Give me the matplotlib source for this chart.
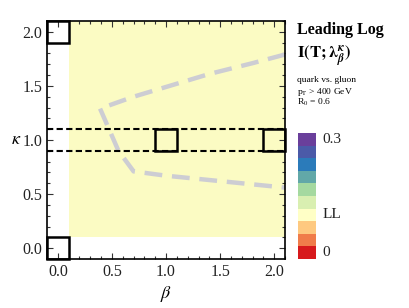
import numpy as np
import matplotlib
matplotlib.use("Agg")
import matplotlib.pyplot as plt
from matplotlib.colors import ListedColormap
from matplotlib.patches import Rectangle

plt.rcParams['font.family'] = ['Liberation Serif', 'DejaVu Serif']
plt.rcParams['mathtext.fontset'] = 'stix'

# Data
beta_centers = np.round(np.arange(0.2, 2.01, 0.2), 2)
kappa_centers = np.round(np.arange(0.2, 2.01, 0.2), 2)
ll_level = 3  # index of "LL" category in the colour scale
values = np.full((len(kappa_centers), len(beta_centers)), ll_level)

cbar_colors = ['#d7191c', '#f07c4a', '#fec980', '#ffffc6', '#d9efb1',
               '#a5d9a0', '#62a8a8', '#2b7bba', '#4b5aa8', '#6a3f9b']
cbar_labels = {0: '0', 3: 'LL', 9: '0.3'}

highlight_squares = [(0.0, 2.0), (0.0, 0.0), (1.0, 1.0), (2.0, 1.0)]
kappa_lines = [0.9, 1.1]

curve_beta = [2.1, 1.8, 1.4, 1.0, 0.7, 0.39, 0.56, 0.70, 1.0, 1.4, 1.8, 2.1]
curve_kappa = [1.79, 1.71, 1.61, 1.49, 1.40, 1.29, 0.90, 0.71, 0.67, 0.63, 0.59, 0.56]

fig = plt.figure(figsize=(4.09, 3.08), dpi=100)
ax = fig.add_axes([0.115, 0.159, 0.582, 0.773])

heat_cmap = ListedColormap(['#fbfbc3'])
step = 0.2
bedges = np.concatenate([beta_centers - step / 2, [beta_centers[-1] + step / 2]])
kedges = np.concatenate([kappa_centers - step / 2, [kappa_centers[-1] + step / 2]])
ax.pcolormesh(bedges, kedges, values, cmap=heat_cmap, shading='flat')

for k in kappa_lines:
    ax.axhline(k, color='black', lw=1.5, ls=(0, (3, 1.6)), zorder=3)

ax.plot(curve_beta, curve_kappa, color='#cdcdd3', lw=3.2, ls=(0, (4, 2.2)),
        solid_capstyle='butt', zorder=2)

for (b, k) in highlight_squares:
    ax.add_patch(Rectangle((b - 0.1, k - 0.1), 0.2, 0.2, fill=False,
                           ec='black', lw=1.8, zorder=4, clip_on=False))

ax.set_xlim(-0.1, 2.1)
ax.set_ylim(-0.1, 2.1)
ax.set_xticks([0.0, 0.5, 1.0, 1.5, 2.0])
ax.set_yticks([0.0, 0.5, 1.0, 1.5, 2.0])
ax.set_xticks(np.arange(0.0, 2.11, 0.1), minor=True)
ax.set_yticks(np.arange(0.0, 2.11, 0.1), minor=True)
ax.xaxis.set_major_formatter(matplotlib.ticker.FormatStrFormatter('%.1f'))
ax.yaxis.set_major_formatter(matplotlib.ticker.FormatStrFormatter('%.1f'))
ax.tick_params(which='both', direction='in', top=True, right=True, labelsize=11.5,
               color='#333333', labelcolor='#222222')
ax.tick_params(which='major', length=4, width=0.8)
ax.tick_params(which='minor', length=2.5, width=0.8)
for s in ax.spines.values():
    s.set_linewidth(1.2)
ax.set_xlabel(r'$\beta$', fontsize=13, labelpad=3)
ax.set_ylabel(r'$\kappa$', fontsize=13, rotation=0, va='center', ha='center')
ax.yaxis.set_label_coords(-0.13, 0.5)

# Colorbar (discrete)
cax = fig.add_axes([298 / 409, 1 - 259 / 308, 18 / 409, 126 / 308])
for i, c in enumerate(cbar_colors):
    cax.add_patch(Rectangle((0, i), 1, 1, color=c, lw=0))
cax.set_xlim(0, 1)
cax.set_ylim(0, 10)
cax.axis('off')
for i, lab in cbar_labels.items():
    cax.text(1.35, i + 0.5, lab, va='center', ha='left', fontsize=11, color='#222222')

fig.text(297 / 409, 1 - 34 / 308, 'Leading Log', fontsize=11.5, fontweight='bold',
         va='baseline', ha='left')
fig.text(297 / 409, 1 - 58 / 308, r'$\mathbf{I(T;}\boldsymbol{\lambda}^{\boldsymbol{\kappa}}_{\boldsymbol{\beta}}\mathbf{)}$',
         fontsize=12, va='baseline', ha='left')
fig.text(297 / 409, 1 - 82 / 308, 'quark vs. gluon', fontsize=6.8, va='baseline', ha='left')
fig.text(297 / 409, 1 - 94 / 308, r'p$_\mathrm{T}$ > 400 GeV', fontsize=6.8, va='baseline', ha='left')
fig.text(297 / 409, 1 - 105 / 308, r'R$_0$ = 0.6', fontsize=6.8, va='baseline', ha='left')

fig.savefig('out.png', dpi=100)
